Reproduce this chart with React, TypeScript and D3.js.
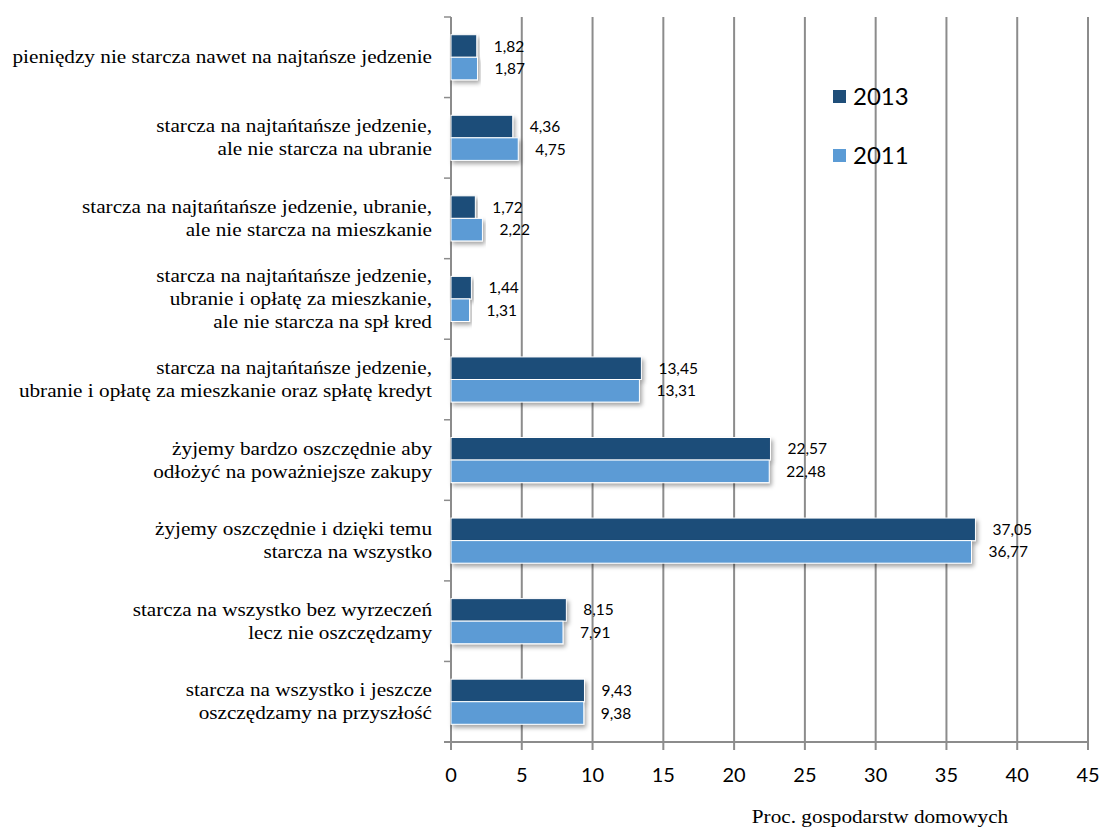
import React from "react";
import * as d3 from "d3";

const categories: string[][] = [
  ["pieniędzy nie starcza nawet na najtańsze jedzenie"],
  ["starcza na najtańtańsze jedzenie,", "ale nie starcza na ubranie"],
  ["starcza na najtańtańsze jedzenie, ubranie,", "ale nie starcza na mieszkanie"],
  ["starcza na najtańtańsze jedzenie,", "ubranie i opłatę za mieszkanie,", "ale nie starcza na spł kred"],
  ["starcza na najtańtańsze jedzenie,", "ubranie i opłatę za mieszkanie oraz spłatę kredyt"],
  ["żyjemy bardzo oszczędnie aby", "odłożyć na poważniejsze zakupy"],
  ["żyjemy oszczędnie i dzięki temu", "starcza na wszystko"],
  ["starcza na wszystko bez wyrzeczeń", "lecz nie oszczędzamy"],
  ["starcza na wszystko i jeszcze", "oszczędzamy na przyszłość"],
];
const values2013 = [1.82, 4.36, 1.72, 1.44, 13.45, 22.57, 37.05, 8.15, 9.43];
const values2011 = [1.87, 4.75, 2.22, 1.31, 13.31, 22.48, 36.77, 7.91, 9.38];
const seriesNames = ["2013", "2011"];
const xTicks = [0, 5, 10, 15, 20, 25, 30, 35, 40, 45];
const axisTitle = "Proc. gospodarstw domowych";

const W = 1102;
const H = 827;
const left = 451;
const right = 1088;
const top = 17;
const bottom = 742;
const colors = ["#1F4E79", "#5B9BD5"];
const grid = "#8C8C8C";
const sans = "Lato, sans-serif";
const serif = "Liberation Serif";
const sx = 1.18;

const fmt = (v: number) => v.toFixed(2).replace(".", ",");

export default function App() {
  const x = d3.scaleLinear().domain([0, 45]).range([left, right]);
  const idx = categories.map((_, i) => String(i));
  const y = d3.scaleBand().domain(idx).range([top, bottom]).paddingInner(0.44).paddingOuter(0.22);
  const inner = d3.scaleBand().domain(seriesNames).range([0, y.bandwidth()]);
  const band = (bottom - top) / categories.length;
  const series = [values2013, values2011];
  const lineH = 23;

  return (
    <div style={{ position: "absolute", left: 0, top: 0 }}>
      <svg width={W} height={H} style={{ display: "block", background: "#fff" }}>
        <defs>
          <filter id="sh" x="-5%" y="-30%" width="115%" height="180%">
            <feDropShadow dx="2" dy="3" stdDeviation="2" floodColor="#000" floodOpacity="0.35" />
          </filter>
        </defs>
        {xTicks.filter((t) => t > 0).map((t) => (
          <line key={"g" + t} x1={x(t)} x2={x(t)} y1={top} y2={bottom + 8} stroke={grid} strokeWidth={2} />
        ))}
        <line x1={left} x2={left} y1={top} y2={bottom + 8} stroke={grid} strokeWidth={2} />
        {d3.range(categories.length + 1).map((i) => (
          <line key={"yt" + i} x1={left - 7} x2={left} y1={top + i * band} y2={top + i * band} stroke={grid} strokeWidth={1.5} />
        ))}
        <line x1={left - 7} x2={right} y1={bottom} y2={bottom} stroke={grid} strokeWidth={2} />
        {xTicks.map((t) => (
          <text key={"xl" + t} x={x(t)} y={782} textAnchor="middle" style={{ fontFamily: sans, fontSize: 20 }} fill="#000">
            {t}
          </text>
        ))}
        <g transform={`translate(880, 823) scale(${sx}, 1)`}>
          <text x={0} y={0} textAnchor="middle" style={{ fontFamily: serif, fontSize: 18 }} fill="#000">
            {axisTitle}
          </text>
        </g>
        {categories.map((_, i) =>
          series.map((vals, s) => {
            const y0 = (y(String(i)) as number) + (inner(seriesNames[s]) as number);
            const h = inner.bandwidth();
            return (
              <g key={"b" + i + "-" + s}>
                <rect
                  x={x(0)}
                  y={y0}
                  width={x(vals[i]) - x(0)}
                  height={h}
                  fill={colors[s]}
                  stroke="#fff"
                  strokeWidth={1}
                  filter="url(#sh)"
                />
                <text x={x(vals[i]) + 17} y={y0 + h / 2 + 5.5} style={{ fontFamily: sans, fontSize: 15.5 }} fill="#000">
                  {fmt(vals[i])}
                </text>
              </g>
            );
          })
        )}
        {categories.map((lines, i) => {
          const cy = (y(String(i)) as number) + y.bandwidth() / 2;
          const start = cy - ((lines.length - 1) * lineH) / 2;
          return (
            <g key={"c" + i} transform={`translate(432, 0) scale(${sx}, 1)`}>
              <text textAnchor="end" style={{ fontFamily: serif, fontSize: 18 }} fill="#000">
                {lines.map((l, k) => (
                  <tspan key={k} x={0} y={start + k * lineH + 6}>
                    {l}
                  </tspan>
                ))}
              </text>
            </g>
          );
        })}
        {seriesNames.map((n, s) => (
          <g key={"lg" + n} transform={`translate(833, ${90 + s * 59})`}>
            <rect x={0} y={0} width={13} height={13} fill={colors[s]} />
            <text x={20} y={15} style={{ fontFamily: sans, fontSize: 24 }} fill="#000">
              {n}
            </text>
          </g>
        ))}
      </svg>
    </div>
  );
}
